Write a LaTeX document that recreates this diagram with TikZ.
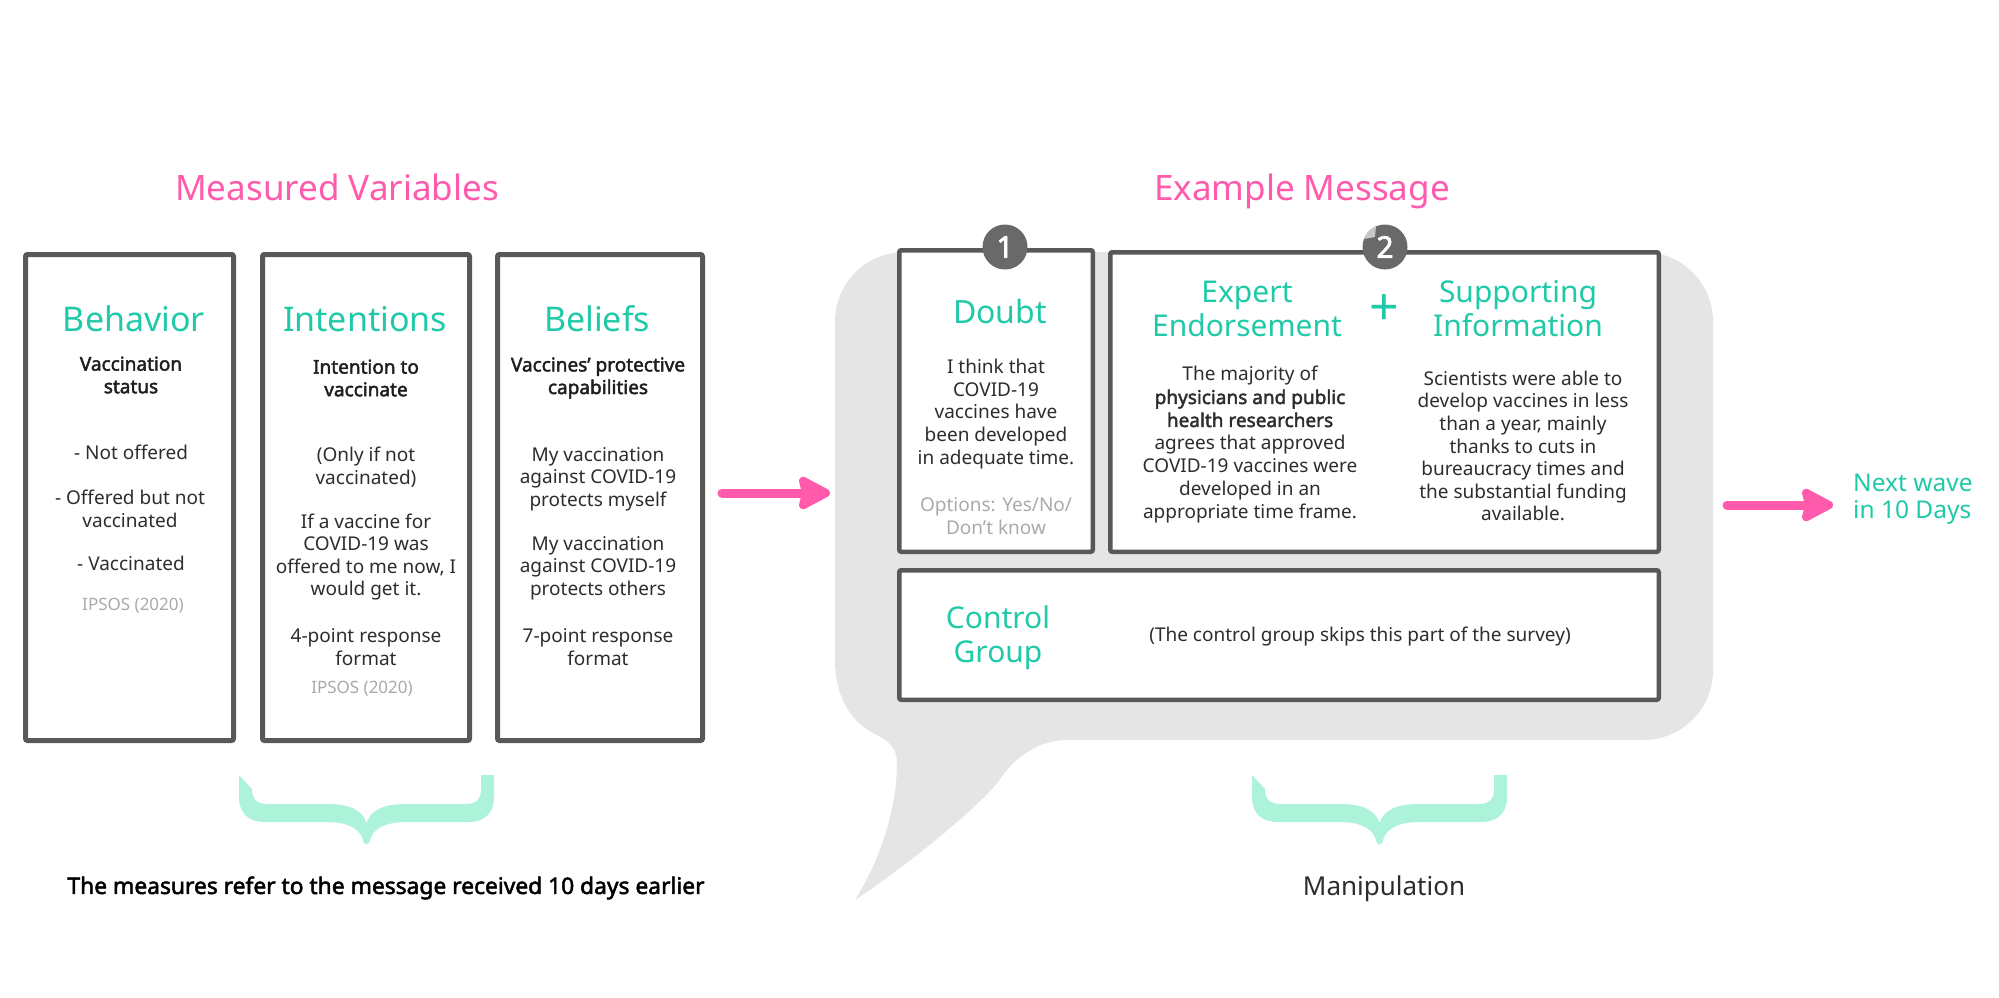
\documentclass[tikz,border=0pt]{standalone}
\usepackage{fontspec}
\setmainfont{Noto Sans}[BoldFont={Noto Sans}, BoldFeatures={FakeBold=2.2}]
\usetikzlibrary{arrows.meta}
\definecolor{tealc}{RGB}{32,202,168}
\definecolor{pinkc}{RGB}{255,90,172}
\definecolor{boxgray}{RGB}{88,88,88}
\definecolor{bubgray}{RGB}{229,229,229}
\definecolor{mintc}{RGB}{172,243,218}
\definecolor{txtc}{RGB}{45,45,45}
\definecolor{headc}{RGB}{30,30,30}
\definecolor{lightc}{RGB}{170,170,170}
\definecolor{badgec}{RGB}{105,105,105}
\definecolor{curlc}{RGB}{200,200,200}
\newcommand\fbody{\fontsize{19}{22.6}\selectfont}
\newcommand\fhead{\fontsize{19}{22.6}\selectfont\bfseries}
\newcommand\fbig{\fontsize{34}{40}\selectfont}
\newcommand\fmid{\fontsize{30}{34}\selectfont}
\tikzset{
  mbox/.style={draw=boxgray, line width=5pt, fill=white, rounded corners=2pt, inner sep=0pt},
  ebox/.style={draw=boxgray, line width=4.5pt, fill=white, rounded corners=2pt, inner sep=0pt},
  ttl/.style={text=pinkc, font=\fontsize{35}{40}\selectfont, inner sep=0pt},
  bigt/.style={text=tealc, font=\fbig, inner sep=0pt},
  midt/.style={text=tealc, font=\fmid, align=center, inner sep=0pt},
  head/.style={text=headc, font=\fhead, align=center, inner sep=0pt},
  body/.style={text=txtc, font=\fbody, align=center, inner sep=0pt},
  note/.style={text=lightc, font=\fbody, align=center, inner sep=0pt},
  src/.style={text=lightc, font=\fontsize{17}{20}\selectfont, inner sep=0pt},
  badge/.style={circle, fill=badgec, minimum size=45pt, inner sep=0pt, text=white, font=\fontsize{30}{30}\selectfont\bfseries},
  parrow/.style={draw=pinkc, line width=9pt, line cap=round, -{Stealth[length=37pt,width=38pt,inset=4pt,round]}},
  mintbrace/.pic={
    \fill[mintc] (-127.5,0) -- (-127.5,22) .. controls (-127.5,38) and (-118,47) .. (-102,47)
      -- (-40,47) .. controls (-15,47) and (-5,56) .. (-3,67)
      .. controls (-2,70) and (2,70) .. (3,67)
      .. controls (5,56) and (15,47) .. (40,47)
      -- (102,47) .. controls (118,47) and (127.5,38) .. (127.5,22)
      -- (127.5,0) -- (114.5,0) -- (114.5,14) .. controls (114.5,24) and (110,29) .. (99,29)
      -- (40,29) .. controls (15,29) and (4,36) .. (0,48)
      .. controls (-4,36) and (-15,29) .. (-40,29)
      -- (-99,29) .. controls (-110,29) and (-114.5,24) .. (-114.5,14) -- cycle;
  }
}
\begin{document}
\begin{tikzpicture}[x=1pt,y=-1pt]
\useasboundingbox (0,0) rectangle (1999,998);
\fill[white] (0,0) rectangle (1999,998);

% titles
\node[ttl] (mv) at (337,187) {Measured Variables};
\node[ttl] (em) at (1302,191) {Example Message};

% measured variable boxes
\node[mbox, minimum width=208pt, minimum height=486pt] (bx1) at (129.5,497.5) {};
\node[mbox, minimum width=207pt, minimum height=486pt] (bx2) at (366,497.5) {};
\node[mbox, minimum width=205pt, minimum height=486pt] (bx3) at (600,497.5) {};

\node[bigt] (beh) at (134,319) {Behavior};
\node[bigt] (int) at (365,319) {Intentions};
\node[bigt] (bel) at (597,319) {Beliefs};

\node[head] (h1) at (131,375) {Vaccination\\status};
\node[body] (b1a) at (131,452) {- Not offered};
\node[body] (b1b) at (130,509) {- Offered but not\\vaccinated};
\node[body] (b1c) at (131,563) {- Vaccinated};
\node[src] (s1) at (133,606) {IPSOS (2020)};

\node[head] (h2) at (366,378) {Intention to\\vaccinate};
\node[body] (b2a) at (366,467) {(Only if not\\vaccinated)};
\node[body] (b2b) at (366,557) {If a vaccine for\\COVID-19 was\\offered to me now, I\\would get it.};
\node[body] (b2c) at (366,647) {4-point response\\format};
\node[src] (s2) at (362,689) {IPSOS (2020)};

\node[head] (h3) at (598,378) {Vaccines’ protective\\capabilities};
\node[body] (b3a) at (598,479) {My vaccination\\against COVID-19\\protects myself};
\node[body] (b3b) at (598,568) {My vaccination\\against COVID-19\\protects others};
\node[body] (b3c) at (598,647) {7-point response\\format};

% brace and caption left
\pic at (366.5,775) {mintbrace};
\node[font=\fontsize{22.8}{26}\selectfont\bfseries, text=black, inner sep=0pt] (meas) at (386,888) {The measures refer to the message received 10 days earlier};

% speech bubble
\fill[bubgray] (835,322) .. controls (835,283) and (866,252) .. (905,252) -- (1643,252)
  .. controls (1682,252) and (1713,283) .. (1713,322) -- (1713,670)
  .. controls (1713,709) and (1682,740) .. (1643,740) -- (1065,740)
  .. controls (1035,741) and (1012,760) .. (998,782)
  .. controls (980,805) and (915,860) .. (855,900)
  .. controls (880,860) and (897,810) .. (897,762)
  .. controls (897,748) and (888,740) .. (875,734)
  .. controls (850,722) and (835,695) .. (835,660) -- cycle;

% message boxes
\node[ebox, minimum width=193.5pt, minimum height=301.5pt] (dbox) at (996,401) {};
\node[ebox, minimum width=548.5pt, minimum height=299.5pt] (ebx) at (1384.5,402) {};
\node[ebox, minimum width=759.5pt, minimum height=129.5pt] (cbox) at (1279,635) {};

\node[badge] (n1) at (1005,247) {1};
\node[badge] (n2) at (1385,247) {2};
\fill[curlc] (1364,239) .. controls (1366,233) and (1370,229) .. (1376,226) -- (1375,237) -- cycle;

\node[text=tealc, font=\fontsize{32}{36}\selectfont, inner sep=0pt] (dt) at (1000,311) {Doubt};
\node[body] (dtx) at (996,414) {I think that\\COVID-19\\vaccines have\\been developed\\in adequate time.};
\node[note] (opt) at (996,516) {Options: Yes/No/\\Don’t know};

\node[midt] (ee) at (1247,309) {Expert\\Endorsement};
\node[text=tealc, font=\fontsize{52}{52}\selectfont, inner sep=0pt] (plus) at (1384,310) {+};
\node[midt] (si) at (1518,309) {Supporting\\Information};
\node[body, font=\fontsize{19}{23}\selectfont] (eetx) at (1250,445) {The majority of\\\textbf{physicians and public}\\\textbf{health researchers}\\agrees that approved\\COVID-19 vaccines were\\developed in an\\appropriate time frame.};
\node[body] (sitx) at (1523,446) {Scientists were able to\\develop vaccines in less\\than a year, mainly\\thanks to cuts in\\bureaucracy times and\\the substantial funding\\available.};

\node[midt] (cg) at (998,638) {Control\\Group};
\node[body] (cgtx) at (1360,637) {(The control group skips this part of the survey)};

% brace and caption right
\pic at (1379.5,775) {mintbrace};
\node[font=\fontsize{26}{30}\selectfont, text=txtc, inner sep=0pt] (manip) at (1384,889) {Manipulation};

% arrows
\coordinate (a1s) at (722,493);
\coordinate (a1e) at (830,493);
\draw[parrow] (a1s) -- (a1e);
\node[text=tealc, font=\fontsize{24.5}{27}\selectfont, align=left, inner sep=0pt, anchor=west] (nw) at (1853,499) {Next wave\\in 10 Days};
\coordinate (a2s) at (1727,505);
\coordinate (a2e) at (1833,505);
\draw[parrow] (a2s) -- (a2e);
\end{tikzpicture}
\end{document}
